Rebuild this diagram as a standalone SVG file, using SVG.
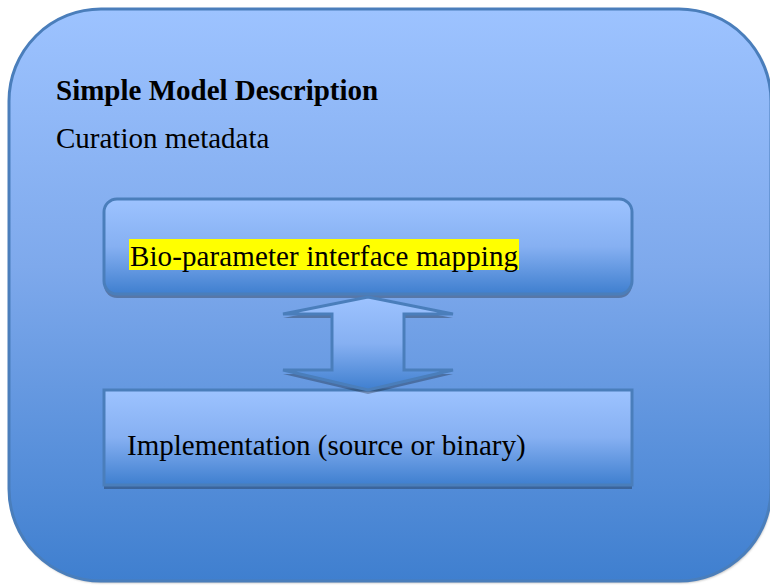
<svg xmlns="http://www.w3.org/2000/svg" width="770" height="586" viewBox="0 0 770 586">
  <defs>
    <linearGradient id="blueOuter" x1="0" y1="0" x2="0" y2="1">
      <stop offset="0" stop-color="#9dc3ff"/>
      <stop offset="0.45" stop-color="#7ea9ec"/>
      <stop offset="1" stop-color="#3f7fcf"/>
    </linearGradient>
    <linearGradient id="blueBox" x1="0" y1="0" x2="0" y2="1">
      <stop offset="0" stop-color="#9dc3ff"/>
      <stop offset="0.5" stop-color="#86b0f2"/>
      <stop offset="1" stop-color="#3f7fcf"/>
    </linearGradient>
    <filter id="soft" x="-5%" y="-5%" width="110%" height="110%">
      <feGaussianBlur stdDeviation="1"/>
    </filter>
  </defs>
  <style>
    .frame { stroke: #4a7ebb; stroke-width: 3; }
    .shadow { fill: #000; fill-opacity: 0.28; }
    .label { font-family: "Liberation Serif", "Times New Roman", serif; font-size: 29px; fill: #000; }
    .title { font-weight: bold; }
  </style>

  <rect width="770" height="586" fill="#ffffff"/>

  <!-- outer container -->
  <g id="model">
    <rect x="10" y="11" width="762" height="572" rx="92" ry="92" fill="#b8b8b8" filter="url(#soft)"/>
    <rect x="9" y="9" width="762" height="572" rx="92" ry="92" fill="url(#blueOuter)" class="frame"/>
    <text x="56" y="100" class="label title">Simple Model Description</text>
    <text x="56" y="148" class="label">Curation metadata</text>
  </g>

  <!-- upper box -->
  <g id="interface">
    <rect x="104" y="203" width="528" height="95" rx="13" ry="13" class="shadow"/>
    <rect x="104" y="199" width="528" height="95" rx="13" ry="13" fill="url(#blueBox)" class="frame"/>
    <rect x="129" y="239" width="390" height="31" fill="#ffff00"/>
    <text x="130" y="266" class="label" textLength="388" lengthAdjust="spacing">Bio-parameter interface mapping</text>
  </g>

  <!-- lower box -->
  <g id="implementation">
    <rect x="104" y="394" width="528" height="95" class="shadow"/>
    <rect x="104" y="390" width="528" height="95" fill="url(#blueBox)" class="frame"/>
    <text x="127" y="455" class="label">Implementation (source or binary)</text>
  </g>

  <!-- connectors -->
  <g id="connectors">
    <polygon points="368,301 453,318 404,318 404,374 453,374 368,394 283,374 332,374 332,318 283,318" class="shadow"/>
    <polygon points="368,297 453,314 404,314 404,370 453,370 368,390 283,370 332,370 332,314 283,314" fill="url(#blueBox)" class="frame" stroke-linejoin="miter"/>
  </g>
</svg>
